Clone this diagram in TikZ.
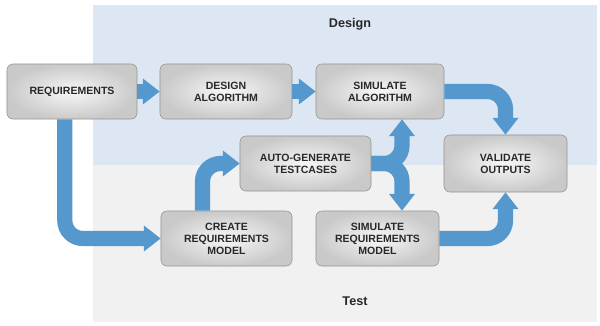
\documentclass[tikz,border=0pt]{standalone}
\usepackage{fontspec}
\setmainfont{Liberation Sans}
\usetikzlibrary{arrows.meta}
\definecolor{designbg}{RGB}{220,231,243}
\definecolor{testbg}{RGB}{241,241,241}
\definecolor{flowblue}{RGB}{84,152,205}
\definecolor{boxedge}{RGB}{150,148,145}
\definecolor{labeltext}{RGB}{40,40,40}

\begin{document}
\begin{tikzpicture}[x=0.025cm,y=-0.025cm,
  stagebox/.style={rectangle,rounded corners=0.15cm,draw=boxedge,thin,inner color=gray!6,outer color=gray!42,
    minimum height=1.375cm,align=center,text=labeltext,font=\fontsize{7.5}{8.6}\selectfont\bfseries},
  flow/.style={flowblue,line width=0.38cm,rounded corners=0.45cm,-{Triangle[width=0.62cm,length=0.42cm]}},
  zonelabel/.style={font=\fontsize{9}{10}\selectfont\bfseries,text=labeltext}]
\useasboundingbox (0,0) rectangle (600,325);
\fill[testbg] (93,165) rectangle (597,322);
\fill[designbg] (93,5) rectangle (597,165);
\node[zonelabel] (design) at (350,24) {Design};
\node[zonelabel] (test) at (355,301) {Test};

\node[stagebox,minimum width=3.25cm] (req) at (72,91.5) {REQUIREMENTS};
\node[stagebox,minimum width=3.3cm] (designalg) at (226,91.5) {DESIGN\\ALGORITHM};
\node[stagebox,minimum width=3.2cm] (simalg) at (380,91.5) {SIMULATE\\ALGORITHM};
\node[stagebox,minimum width=3.075cm,minimum height=1.425cm] (validate) at (505.5,163.5) {VALIDATE\\OUTPUTS};
\node[stagebox,minimum width=3.275cm] (autogen) at (305.5,163.5) {AUTO-GENERATE\\TESTCASES};
\node[stagebox,minimum width=3.275cm] (createreq) at (226.5,238.5) {CREATE\\REQUIREMENTS\\MODEL};
\node[stagebox,minimum width=3.075cm] (simreq) at (377.5,238.5) {SIMULATE\\REQUIREMENTS\\MODEL};

\draw[flow] (req.east) -- (designalg.west);
\draw[flow] (designalg.east) -- (simalg.west);
\draw[flow] (simalg.east) -| (validate.north);
\draw[flow] ([xshift=-0.18cm]req.south) |- (createreq.west);
\draw[flow] ([xshift=-0.6cm]createreq.north) |- (autogen.west);
\coordinate (fork) at (402,163.5);
\draw[flow] (autogen.east) -| (fork |- simalg.south);
\draw[flow] (autogen.east) -| (fork |- simreq.north);
\draw[flow] (simreq.east) -| (validate.south);
\end{tikzpicture}
\end{document}
